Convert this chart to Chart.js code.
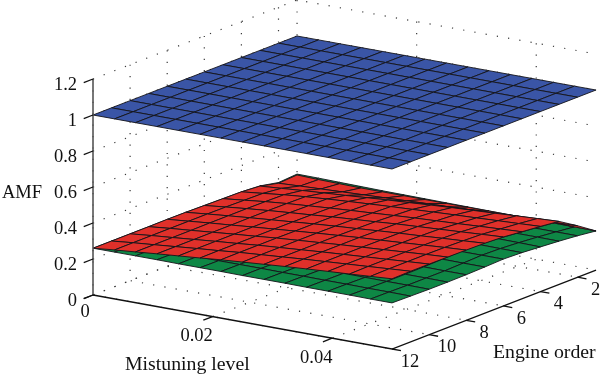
<!DOCTYPE html>
<html lang="en">
<head>
<meta charset="UTF-8" />
<title>AMF surface</title>
<script src="https://cdn.jsdelivr.net/npm/chart.js"></script>
<style>
  html, body { margin: 0; padding: 0; background: #fff; }
  canvas { display: block; }
</style>
</head>
<body>
<canvas id="amfChart" width="600" height="379"></canvas>
<script>
// data
const mistLevels = [0, 0.0036, 0.0071, 0.0107, 0.0143, 0.0179, 0.0214, 0.025, 0.0286, 0.0321, 0.0357, 0.0393, 0.0429, 0.0464, 0.05];
const engineOrders = [1, 2, 3, 4, 5, 6, 7, 8, 9, 10, 11, 12];

const mistTicks = [0, 0.02, 0.04];
const orderTicks = [2, 4, 6, 8, 10, 12];
const amfTicks = [0, 0.2, 0.4, 0.6, 0.8, 1, 1.2];

const blueRow = [1, 1, 1, 1, 1, 1, 1, 1, 1, 1, 1, 1, 1, 1, 1];
const blueAmf = [blueRow, blueRow, blueRow, blueRow, blueRow, blueRow, blueRow, blueRow, blueRow, blueRow, blueRow, blueRow];

// one row per engine order, 1 to 12
const redAmf = [
  [.228, .224, .222, .220, .220, .220, .220, .220, .220, .220, .220, .219, .219, .218, .217],
  [.222, .228, .233, .238, .243, .248, .253, .258, .262, .267, .271, .274, .278, .282, .286],
  [.246, .255, .264, .272, .280, .289, .297, .304, .312, .319, .325, .331, .338, .344, .350],
  [.254, .267, .280, .291, .300, .308, .315, .322, .328, .334, .340, .345, .351, .356, .362],
  [.256, .269, .282, .293, .302, .311, .319, .326, .334, .341, .347, .353, .360, .366, .372],
  [.258, .271, .283, .294, .304, .313, .323, .331, .339, .348, .355, .362, .369, .376, .383],
  [.260, .272, .283, .294, .304, .314, .324, .333, .341, .350, .358, .365, .373, .380, .388],
  [.261, .272, .283, .293, .304, .314, .324, .334, .343, .352, .359, .367, .375, .383, .390],
  [.260, .272, .282, .293, .304, .314, .325, .334, .343, .352, .360, .368, .376, .384, .391],
  [.260, .272, .282, .293, .304, .314, .325, .334, .343, .352, .360, .368, .376, .384, .392],
  [.260, .272, .282, .293, .304, .314, .325, .334, .343, .352, .360, .368, .376, .384, .392],
  [.260, .272, .282, .293, .303, .313, .324, .333, .342, .351, .359, .367, .374, .382, .390]
];

const greenAmf = [
  [.233, .232, .230, .228, .226, .225, .224, .223, .222, .221, .220, .220, .219, .218, .217],
  [.226, .226, .227, .227, .227, .228, .228, .228, .228, .229, .229, .229, .230, .230, .230],
  [.247, .247, .247, .246, .246, .245, .245, .244, .244, .243, .243, .242, .241, .241, .240],
  [.254, .256, .258, .259, .259, .259, .258, .258, .257, .256, .254, .253, .251, .250, .248],
  [.256, .257, .258, .259, .260, .260, .260, .260, .260, .260, .259, .258, .258, .257, .256],
  [.258, .258, .259, .259, .260, .260, .261, .261, .261, .261, .261, .261, .260, .260, .260],
  [.260, .260, .260, .260, .259, .259, .259, .258, .258, .258, .257, .257, .257, .256, .256],
  [.260, .260, .259, .259, .258, .258, .257, .256, .256, .255, .255, .254, .254, .253, .253],
  [.260, .260, .259, .259, .258, .257, .257, .256, .255, .255, .254, .254, .253, .253, .252],
  [.260, .260, .259, .259, .258, .258, .257, .256, .256, .255, .255, .254, .253, .253, .252],
  [.260, .260, .260, .259, .259, .258, .258, .258, .257, .257, .256, .256, .255, .255, .254],
  [.260, .260, .260, .260, .259, .259, .259, .258, .258, .258, .257, .257, .257, .256, .256]
];

// fixed camera: turns (mistuning, order, amf) into flat chart units
function project(m, o, z) {
  return {
    x: 93 + 5980 * m + (12 - o) * 18.55,
    y: 295 + 1080 * m - (12 - o) * 7.18 - 180 * z
  };
}

function lineSet(points, color, width, dash) {
  return {
    data: points, showLine: true, pointRadius: 0,
    borderColor: color, borderWidth: width, borderDash: dash || []
  };
}

const layers = [];
const mistEnd = mistLevels[mistLevels.length - 1];

// dotted grid on the two back walls and the floor
const dots = [1.2, 10.2];
const dotColor = '#3a3a3a';
amfTicks.forEach(z => {
  layers.push(lineSet([project(0, 12, z), project(0, 1, z), project(mistEnd, 1, z)], dotColor, 1.2, dots));
});
orderTicks.forEach(o => {
  layers.push(lineSet([project(0, o, amfTicks[6]), project(0, o, 0), project(mistEnd, o, 0)], dotColor, 1.2, dots));
});
mistTicks.forEach(m => {
  layers.push(lineSet([project(m, 1, amfTicks[6]), project(m, 1, 0), project(m, 12, 0)], dotColor, 1.2, dots));
});

// surfaces, back cells first
function addSurface(table, color) {
  for (let r = 0; r < engineOrders.length - 1; r++) {
    for (let c = 0; c < mistLevels.length - 1; c++) {
      const a = project(mistLevels[c], engineOrders[r], table[r][c]);
      const b = project(mistLevels[c + 1], engineOrders[r], table[r][c + 1]);
      const d = project(mistLevels[c + 1], engineOrders[r + 1], table[r + 1][c + 1]);
      const e = project(mistLevels[c], engineOrders[r + 1], table[r + 1][c]);
      const cell = lineSet([a, b, d, e, a], '#14141a', 0.9);
      cell.cellFill = color;
      layers.push(cell);
    }
  }
}
addSurface(greenAmf, '#0e8745');
addSurface(redAmf, '#e0302a');
addSurface(blueAmf, '#3a55a6');

// axis lines and ticks
layers.push(lineSet([project(0, 12, 0), project(0, 12, amfTicks[6])], '#555', 1.6));
layers.push(lineSet([project(0, 12, 0), project(mistEnd, 12, 0), project(mistEnd, 1, 0)], '#111', 1.3));
amfTicks.forEach(z => {
  layers.push(lineSet([project(0, 12, z), project(0, 12.5, z)], '#111', 1.3));
});
mistTicks.forEach(m => {
  layers.push(lineSet([project(m, 12, 0), project(m, 12.5, 0)], '#111', 1.3));
});
orderTicks.forEach(o => {
  layers.push(lineSet([project(mistEnd, o, 0), project(mistEnd + 0.0015, o, 0)], '#111', 1.3));
});

// fills the cell under its outline
const cellFillPlugin = {
  id: 'cellFill',
  beforeDatasetDraw(chart, args) {
    const fill = chart.data.datasets[args.index].cellFill;
    if (!fill) return;
    const ctx = chart.ctx;
    const pts = args.meta.data;
    ctx.save();
    ctx.beginPath();
    ctx.moveTo(pts[0].x, pts[0].y);
    for (let i = 1; i < pts.length; i++) ctx.lineTo(pts[i].x, pts[i].y);
    ctx.closePath();
    ctx.fillStyle = fill;
    ctx.fill();
    ctx.restore();
  }
};

// tick labels and axis titles
const textPlugin = {
  id: 'axisText',
  afterDraw(chart) {
    const ctx = chart.ctx;
    const sx = chart.scales.x, sy = chart.scales.y;
    function put(str, p, dx, dy, align) {
      ctx.textAlign = align || 'center';
      ctx.fillText(str, sx.getPixelForValue(p.x) + dx, sy.getPixelForValue(p.y) + dy);
    }
    ctx.save();
    ctx.fillStyle = '#111';
    ctx.textBaseline = 'middle';
    ctx.font = '18.5px "Liberation Serif"';
    amfTicks.forEach(z => put(String(z), project(0, 12, z), -16, 6, 'right'));
    mistTicks.forEach(m => put(String(m), project(m, 12, 0), m === 0 ? -8 : -16, m === 0 ? 17 : 20));
    orderTicks.forEach(o => put(String(o), project(mistEnd, o, 0), 18, 13));
    ctx.textAlign = 'left';
    ctx.fillText('AMF', 2, 193);
    ctx.font = '19.8px "Liberation Serif"';
    ctx.fillText('Mistuning level', 125, 365);
    ctx.fillText('Engine order', 493, 353);
    ctx.restore();
  }
};

new Chart(document.getElementById('amfChart'), {
  type: 'scatter',
  data: { datasets: layers.slice().reverse() },
  options: {
    responsive: false,
    animation: false,
    events: [],
    layout: { padding: 0 },
    plugins: { legend: { display: false }, tooltip: { enabled: false } },
    scales: {
      x: { type: 'linear', min: 0, max: 600, display: false },
      y: { type: 'linear', min: 0, max: 379, reverse: true, display: false }
    }
  },
  plugins: [cellFillPlugin, textPlugin]
});
</script>
</body>
</html>
